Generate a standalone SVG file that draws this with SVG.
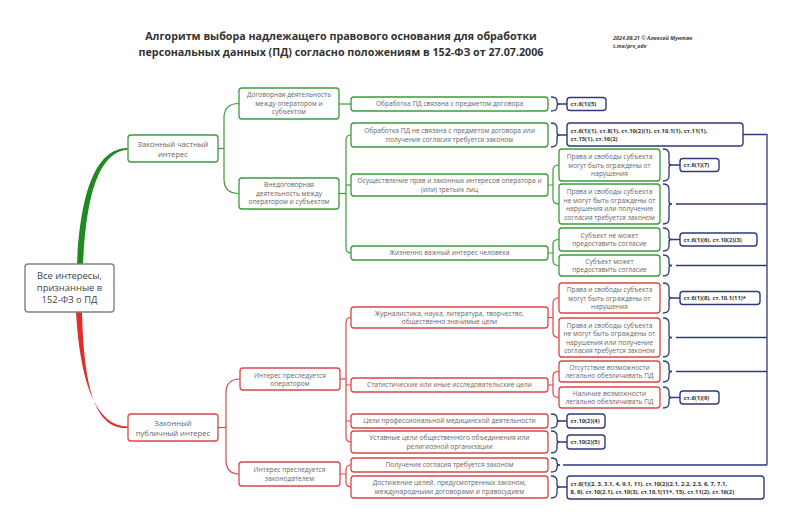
<svg xmlns="http://www.w3.org/2000/svg" width="800" height="522" viewBox="0 0 800 522">
<style>
.t{font-family:"Open Sans","DejaVu Sans",sans-serif}
.title{font-size:10.7px;font-weight:700;fill:#333;text-anchor:middle}
.cr{font-size:5.4px;font-weight:700;font-style:italic;fill:#444}
.g rect{fill:#fff;stroke:#3c9a3c;stroke-width:1.3}
.r rect{fill:#fff;stroke:#d8474b;stroke-width:1.3}
.n{font-size:6.6px;fill:#666;text-anchor:middle}
.n2{font-size:7.6px;fill:#666;text-anchor:middle}
.lb rect{fill:#fff;stroke:#2f3a78;stroke-width:1.4}
.l{font-size:5.85px;font-weight:700;fill:#333}
.gc{fill:none;stroke:#3c9a3c;stroke-width:1.2}
.rc{fill:none;stroke:#d8474b;stroke-width:1.2}
.bc{fill:none;stroke:#2f3a78;stroke-width:1.3}
</style>
<rect width="800" height="522" fill="#fff"/>
<g id="title" class="t">
<text class="title" x="341" y="40">Алгоритм выбора надлежащего правового основания для обработки</text>
<text class="title" x="341" y="56">персональных данных (ПД) согласно положениям в 152-ФЗ от 27.07.2006</text>
<text class="cr" x="613" y="40">2024.09.21 © Алексей Мунтян</text>
<text class="cr" x="613" y="48">t.me/prv_adv</text>
</g>
<g id="connectors">
<path d="M77 264 C80 200 93 148 128 148 L128 149.5 C97 152 86 200 83 264 Z" fill="#1f8a22"/>
<path d="M76 312 C80 382 96 426.5 128 426.5 L128 428 C93 430 84 382 82 312 Z" fill="#e0302e"/>
<g class="gc">
<path d="M218 148.5 L224 148.5"/>
<path d="M239 103.5 C229 103.5 224 108 224 118 L224 179 C224 189 229 193.5 239 193.5"/>
<path d="M339 104 L351 104"/>
<path d="M339 193.5 L346 193.5"/>
<path d="M351 135 Q346 135 346 140 L346 248 Q346 253 351 253"/>
<path d="M346 185 L351 185"/>
<path d="M548 185 L553 185 M559 165 Q553 165 553 170 L553 199 Q553 204 559 204"/>
<path d="M548 253 L553 253 M559 239.5 Q553 239.5 553 244 L553 261 Q553 265.5 559 265.5"/>
</g>
<g class="rc">
<path d="M218 427.5 L226 427.5"/>
<path d="M240 379 C230 379 226 384 226 393 L226 460 C226 469 230 474 239 474"/>
<path d="M340 379 L346 379"/>
<path d="M351 317.5 Q346 317.5 346 322.5 L346 437 Q346 442 351 442"/>
<path d="M346 385 L351 385 M346 421 L351 421"/>
<path d="M340 474 L346 474 M351 465 Q346 465 346 470 L346 482 Q346 487 351 487"/>
<path d="M548 317.5 L553 317.5 M559 298 Q553 298 553 303 L553 332.5 Q553 337.5 559 337.5"/>
<path d="M548 385 L553 385 M559 371.5 Q553 371.5 553 376 L553 393 Q553 397.5 559 397.5"/>
</g>
<g class="bc">
<path d="M551 97Q557 97 557 101L557 102Q557 104 560 104Q557 104 557 106L557 107Q557 111 551 111M560 104L567 104"/>
<path d="M551 123Q557 123 557 128L557 133Q557 135 560 135Q557 135 557 137L557 142Q557 147 551 147M560 135L567 135"/>
<path d="M663 149Q669 149 669 154L669 163Q669 165 672 165Q669 165 669 167L669 176Q669 181 663 181M672 165L680 165"/>
<path d="M663 184Q669 184 669 189L669 202Q669 204 672 204Q669 204 669 206L669 219Q669 224 663 224M676 204L767 204"/>
<path d="M663 228Q669 228 669 233L669 237.5Q669 239.5 672 239.5Q669 239.5 669 241.5L669 246Q669 251 663 251M672 239.5L680 239.5"/>
<path d="M663 255Q669 255 669 260L669 263.5Q669 265.5 672 265.5Q669 265.5 669 267.5L669 271Q669 276 663 276M676 265.5L767 265.5"/>
<path d="M663 283Q669 283 669 288L669 296Q669 298 672 298Q669 298 669 300L669 308Q669 313 663 313M672 298L680 298"/>
<path d="M663 318Q669 318 669 323L669 335.5Q669 337.5 672 337.5Q669 337.5 669 339.5L669 352Q669 357 663 357M676 337.5L767 337.5"/>
<path d="M663 361Q669 361 669 366L669 369.5Q669 371.5 672 371.5Q669 371.5 669 373.5L669 377Q669 382 663 382M676 371.5L767 371.5"/>
<path d="M663 387Q669 387 669 392L669 395.5Q669 397.5 672 397.5Q669 397.5 669 399.5L669 403Q669 408 663 408M672 397.5L680 397.5"/>
<path d="M551 414Q557 414 557 418L557 419Q557 421 560 421Q557 421 557 423L557 424Q557 428 551 428M560 421L567 421"/>
<path d="M551 431Q557 431 557 436L557 440Q557 442 560 442Q557 442 557 444L557 448Q557 453 551 453M560 442L567 442"/>
<path d="M551 458Q557 458 557 462L557 463Q557 465 560 465Q557 465 557 467L557 468Q557 472 551 472M563 465L767 465"/>
<path d="M551 476Q557 476 557 481L557 485Q557 487 560 487Q557 487 557 489L557 493Q557 498 551 498M560 487L567 487"/>
<path d="M743 134.5L767 134.5L767 465"/>
</g>
</g>
<g id="root" class="t">
<rect x="25" y="264" width="89" height="48" rx="3" fill="#fff" stroke="#7b818e" stroke-width="1.4"/>
<text x="69.5" y="279" font-size="9.4" fill="#444" text-anchor="middle">Все интересы,</text>
<text x="69.5" y="291" font-size="9.4" fill="#444" text-anchor="middle">признанные в</text>
<text x="69.5" y="303" font-size="9.4" fill="#444" text-anchor="middle">152-ФЗ о ПД</text>
</g>
<g id="private" class="t g">
<rect x="128" y="135" width="90" height="27" rx="3"/>
<text class="n2" x="173" y="147">Законный частный</text>
<text class="n2" x="173" y="157">интерес</text>
</g>
<g id="public" class="t r">
<rect x="128" y="414" width="90" height="27" rx="3"/>
<text class="n2" x="173" y="426">Законный</text>
<text class="n2" x="173" y="436">публичный интерес</text>
</g>
<g id="contract" class="t g">
<rect x="239" y="88" width="100" height="31" rx="3"/>
<text class="n" x="289" y="97">Договорная деятельность</text>
<text class="n" x="289" y="105.5">между оператором и</text>
<text class="n" x="289" y="114">субъектом</text>
</g>
<g id="noncontract" class="t g">
<rect x="239" y="178" width="100" height="31" rx="3"/>
<text class="n" x="289" y="187">Внедоговорная</text>
<text class="n" x="289" y="195.5">деятельность между</text>
<text class="n" x="289" y="204">оператором и субъектом</text>
</g>
<g id="operator" class="t r">
<rect x="240" y="368" width="100" height="22" rx="3"/>
<text class="n" x="290" y="377.5">Интерес преследуется</text>
<text class="n" x="290" y="386">оператором</text>
</g>
<g id="legislator" class="t r">
<rect x="239" y="462" width="101" height="24" rx="3"/>
<text class="n" x="289.5" y="472">Интерес преследуется</text>
<text class="n" x="289.5" y="480.5">законодателем</text>
</g>
<g id="c1" class="t g"><rect x="351" y="97" width="197" height="14" rx="3"/><text class="n" x="449.5" y="106.3">Обработка ПД связана с предметом договора</text></g>
<g id="c2" class="t g"><rect x="351" y="123" width="197" height="24" rx="3"/><text class="n" x="449.5" y="133">Обработка ПД не связана с предметом договора или</text><text class="n" x="449.5" y="141.5">получение согласия требуется законом</text></g>
<g id="c3" class="t g"><rect x="351" y="174" width="197" height="22" rx="3"/><text class="n" x="449.5" y="183">Осуществление прав и законных интересов оператора и</text><text class="n" x="449.5" y="191.5">(или) третьих лиц</text></g>
<g id="c4" class="t g"><rect x="351" y="246" width="197" height="14" rx="3"/><text class="n" x="449.5" y="255.3">Жизненно важный интерес человека</text></g>
<g id="c5" class="t r"><rect x="351" y="307" width="197" height="21" rx="3"/><text class="n" x="449.5" y="315.5">Журналистика, наука, литература, творчество,</text><text class="n" x="449.5" y="324">общественно значимые цели</text></g>
<g id="c6" class="t r"><rect x="351" y="378" width="197" height="14" rx="3"/><text class="n" x="449.5" y="387.3">Статистические или иные исследовательские цели</text></g>
<g id="c7" class="t r"><rect x="351" y="414" width="197" height="14" rx="3"/><text class="n" x="449.5" y="423.3">Цели профессиональной медицинской деятельности</text></g>
<g id="c8" class="t r"><rect x="351" y="431" width="197" height="22" rx="3"/><text class="n" x="449.5" y="440">Уставные цели общественного объединения или</text><text class="n" x="449.5" y="448.5">религиозной организации</text></g>
<g id="c9" class="t r"><rect x="351" y="458" width="197" height="14" rx="3"/><text class="n" x="449.5" y="467.3">Получение согласия требуется законом</text></g>
<g id="c10" class="t r"><rect x="351" y="476" width="197" height="22" rx="3"/><text class="n" x="449.5" y="485">Достижение целей, предусмотренных законом,</text><text class="n" x="449.5" y="493.5">международными договорами и правосудием</text></g>
<g id="d1" class="t g"><rect x="559" y="149" width="101" height="32" rx="3"/><text class="n" x="609.5" y="159">Права и свободы субъекта</text><text class="n" x="609.5" y="167.5">могут быть ограждены от</text><text class="n" x="609.5" y="176">нарушения</text></g>
<g id="d2" class="t g"><rect x="559" y="184" width="101" height="40" rx="3"/><text class="n" x="609.5" y="194">Права и свободы субъекта</text><text class="n" x="609.5" y="202.5">не могут быть ограждены от</text><text class="n" x="609.5" y="211">нарушения или получение</text><text class="n" x="609.5" y="219.5">согласия требуется законом</text></g>
<g id="d3" class="t g"><rect x="559" y="228" width="101" height="23" rx="3"/><text class="n" x="609.5" y="237.5">Субъект не может</text><text class="n" x="609.5" y="246">предоставить согласие</text></g>
<g id="d4" class="t g"><rect x="559" y="255" width="101" height="21" rx="3"/><text class="n" x="609.5" y="263.5">Субъект может</text><text class="n" x="609.5" y="272">предоставить согласие</text></g>
<g id="d5" class="t r"><rect x="559" y="283" width="101" height="30" rx="3"/><text class="n" x="609.5" y="292">Права и свободы субъекта</text><text class="n" x="609.5" y="300.5">могут быть ограждены от</text><text class="n" x="609.5" y="309">нарушения</text></g>
<g id="d6" class="t r"><rect x="559" y="318" width="101" height="39" rx="3"/><text class="n" x="609.5" y="327.5">Права и свободы субъекта</text><text class="n" x="609.5" y="336">не могут быть ограждены от</text><text class="n" x="609.5" y="344.5">нарушения или получение</text><text class="n" x="609.5" y="353">согласия требуется законом</text></g>
<g id="d7" class="t r"><rect x="559" y="361" width="101" height="21" rx="3"/><text class="n" x="609.5" y="369.5">Отсутствие возможности</text><text class="n" x="609.5" y="378">легально обезличивать ПД</text></g>
<g id="d8" class="t r"><rect x="559" y="387" width="101" height="21" rx="3"/><text class="n" x="609.5" y="395.5">Наличие возможности</text><text class="n" x="609.5" y="404">легально обезличивать ПД</text></g>
<g id="l1" class="t lb"><rect x="567" y="97.5" width="39" height="13" rx="3"/><text class="l" x="570.5" y="106.2">ст.6(1)(5)</text></g>
<g id="l2" class="t lb"><rect x="567" y="123" width="176" height="23" rx="3"/><text class="l" x="570.5" y="132.5">ст.6(1)(1), ст.8(1), ст.10(2)(1), ст.10.1(1), ст.11(1),</text><text class="l" x="570.5" y="141">ст.15(1), ст.16(2)</text></g>
<g id="l3" class="t lb"><rect x="680" y="158.5" width="39" height="13" rx="3"/><text class="l" x="683.5" y="167.2">ст.6(1)(7)</text></g>
<g id="l4" class="t lb"><rect x="680" y="233" width="77" height="13" rx="3"/><text class="l" x="683.5" y="241.7">ст.6(1)(6), ст.10(2)(3)</text></g>
<g id="l5" class="t lb"><rect x="680" y="291.5" width="80" height="13" rx="3"/><text class="l" x="683.5" y="300.2">ст.6(1)(8), ст.10.1(11)*</text></g>
<g id="l6" class="t lb"><rect x="680" y="391" width="39" height="13" rx="3"/><text class="l" x="683.5" y="399.7">ст.6(1)(9)</text></g>
<g id="l7" class="t lb"><rect x="567" y="414" width="38" height="14" rx="3"/><text class="l" x="570.5" y="423.2">ст.10(2)(4)</text></g>
<g id="l8" class="t lb"><rect x="567" y="435" width="38" height="14" rx="3"/><text class="l" x="570.5" y="444.2">ст.10(2)(5)</text></g>
<g id="l9" class="t lb"><rect x="567" y="476" width="197" height="23" rx="3"/><text class="l" x="570.5" y="485.5">ст.6(1)(2, 3, 3.1, 4, 9.1, 11), ст.10(2)(2.1, 2.2, 2.3, 6, 7, 7.1,</text><text class="l" x="570.5" y="494">8, 9), ст.10(2.1), ст.10(3), ст.10.1(11*, 15), ст.11(2), ст.16(2)</text></g>
</svg>
